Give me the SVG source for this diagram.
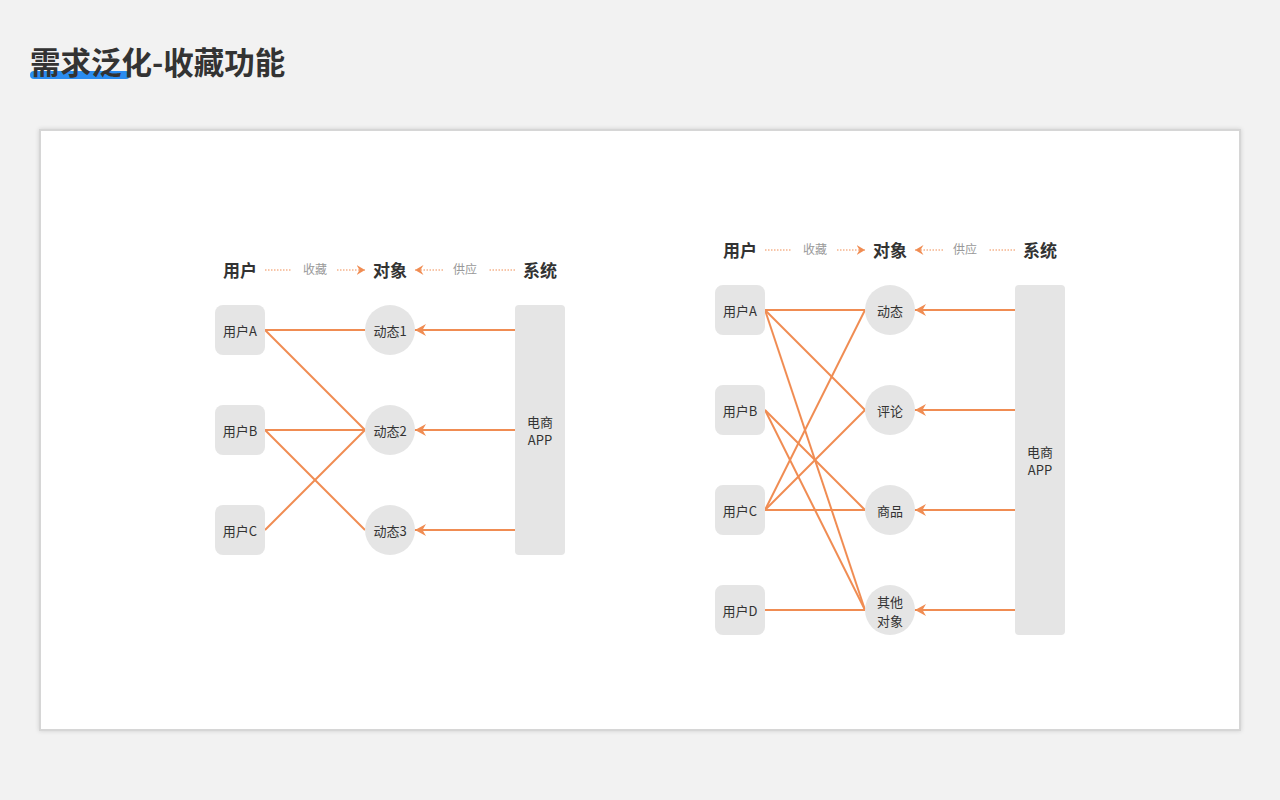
<svg xmlns="http://www.w3.org/2000/svg" width="1280" height="800" viewBox="0 0 1280 800">
<defs>
<marker id="ah" markerWidth="12" markerHeight="14" viewBox="0 0 12 14" refX="11" refY="7" orient="auto" markerUnits="userSpaceOnUse">
<path d="M0,1 L11,7 L0,13 L3.5,7 Z" fill="#f08c52"/>
</marker>
<marker id="hs" markerWidth="9" markerHeight="11" viewBox="0 0 9 11" refX="8.5" refY="5.5" orient="auto" markerUnits="userSpaceOnUse">
<path d="M0,0.5 L8.5,5.5 L0,10.5 L3,5.5 Z" fill="#f08c52"/>
</marker>
<filter id="sh" x="-5%" y="-5%" width="110%" height="110%">
<feDropShadow dx="0" dy="0" stdDeviation="2" flood-color="#000" flood-opacity="0.15"/>
</filter>
</defs>
<style>
.f{font-family:"Noto Sans CJK SC","Noto Sans",sans-serif}
.hd{font-size:17px;font-weight:bold;fill:#333;text-anchor:middle}
.lb{font-size:12px;fill:#999;text-anchor:middle}
.nt{font-size:13px;fill:#333;text-anchor:middle}
.box{fill:#e5e5e5}
.ln{stroke:#f08c52;stroke-width:2;fill:none}
.dt{stroke:#f08c52;stroke-width:1;stroke-dasharray:1.5 1.5;fill:none}
</style>
<rect width="1280" height="800" fill="#f2f2f2"/>
<g id="title">
<rect x="30" y="71" width="100" height="8" rx="4" fill="#2a8cf0"/>
<text class="f" x="30" y="74" font-size="30.5" font-weight="bold" fill="#333">需求泛化-收藏功能</text>
</g>
<rect id="card" x="40" y="130" width="1200" height="600" fill="#fff" stroke="#d6d6d6" stroke-width="2" filter="url(#sh)"/>

<g id="left-header" class="f">
<text class="hd" x="240" y="277">用户</text>
<text class="lb" x="315" y="274">收藏</text>
<text class="hd" x="390" y="277">对象</text>
<text class="lb" x="465" y="274">供应</text>
<text class="hd" x="540" y="277">系统</text>
<line class="dt" x1="265" y1="270" x2="292" y2="270"/>
<line class="dt" x1="337" y1="270" x2="365" y2="270" marker-end="url(#hs)"/>
<line class="dt" x1="515" y1="270" x2="488" y2="270"/>
<line class="dt" x1="443" y1="270" x2="415" y2="270" marker-end="url(#hs)"/>
</g>

<g id="left-connectors">
<line class="ln" x1="265" y1="330" x2="365" y2="330"/>
<line class="ln" x1="265" y1="330" x2="365" y2="430"/>
<line class="ln" x1="265" y1="430" x2="365" y2="430"/>
<line class="ln" x1="265" y1="430" x2="365" y2="530"/>
<line class="ln" x1="265" y1="530" x2="365" y2="430"/>
<line class="ln" x1="515" y1="330" x2="415" y2="330" marker-end="url(#ah)"/>
<line class="ln" x1="515" y1="430" x2="415" y2="430" marker-end="url(#ah)"/>
<line class="ln" x1="515" y1="530" x2="415" y2="530" marker-end="url(#ah)"/>
</g>

<g id="l-userA" class="f"><rect class="box" x="215" y="305" width="50" height="50" rx="8"/><text class="nt" x="240" y="336">用户A</text></g>
<g id="l-userB" class="f"><rect class="box" x="215" y="405" width="50" height="50" rx="8"/><text class="nt" x="240" y="436">用户B</text></g>
<g id="l-userC" class="f"><rect class="box" x="215" y="505" width="50" height="50" rx="8"/><text class="nt" x="240" y="536">用户C</text></g>
<g id="l-obj1" class="f"><circle class="box" cx="390" cy="330" r="25"/><text class="nt" x="390" y="336">动态1</text></g>
<g id="l-obj2" class="f"><circle class="box" cx="390" cy="430" r="25"/><text class="nt" x="390" y="436">动态2</text></g>
<g id="l-obj3" class="f"><circle class="box" cx="390" cy="530" r="25"/><text class="nt" x="390" y="536">动态3</text></g>
<g id="l-system" class="f"><rect class="box" x="515" y="305" width="50" height="250" rx="4"/><text class="nt" x="540" y="427">电商</text><text class="nt" x="540" y="445">APP</text></g>

<g id="right-header" class="f">
<text class="hd" x="740" y="257">用户</text>
<text class="lb" x="815" y="254">收藏</text>
<text class="hd" x="890" y="257">对象</text>
<text class="lb" x="965" y="254">供应</text>
<text class="hd" x="1040" y="257">系统</text>
<line class="dt" x1="765" y1="250" x2="792" y2="250"/>
<line class="dt" x1="837" y1="250" x2="865" y2="250" marker-end="url(#hs)"/>
<line class="dt" x1="1015" y1="250" x2="988" y2="250"/>
<line class="dt" x1="943" y1="250" x2="915" y2="250" marker-end="url(#hs)"/>
</g>

<g id="right-connectors">
<line class="ln" x1="765" y1="310" x2="865" y2="310"/>
<line class="ln" x1="765" y1="310" x2="865" y2="410"/>
<line class="ln" x1="765" y1="310" x2="865" y2="610"/>
<line class="ln" x1="765" y1="410" x2="865" y2="510"/>
<line class="ln" x1="765" y1="410" x2="865" y2="610"/>
<line class="ln" x1="765" y1="510" x2="865" y2="310"/>
<line class="ln" x1="765" y1="510" x2="865" y2="410"/>
<line class="ln" x1="765" y1="510" x2="865" y2="510"/>
<line class="ln" x1="765" y1="610" x2="865" y2="610"/>
<line class="ln" x1="1015" y1="310" x2="915" y2="310" marker-end="url(#ah)"/>
<line class="ln" x1="1015" y1="410" x2="915" y2="410" marker-end="url(#ah)"/>
<line class="ln" x1="1015" y1="510" x2="915" y2="510" marker-end="url(#ah)"/>
<line class="ln" x1="1015" y1="610" x2="915" y2="610" marker-end="url(#ah)"/>
</g>

<g id="r-userA" class="f"><rect class="box" x="715" y="285" width="50" height="50" rx="8"/><text class="nt" x="740" y="316">用户A</text></g>
<g id="r-userB" class="f"><rect class="box" x="715" y="385" width="50" height="50" rx="8"/><text class="nt" x="740" y="416">用户B</text></g>
<g id="r-userC" class="f"><rect class="box" x="715" y="485" width="50" height="50" rx="8"/><text class="nt" x="740" y="516">用户C</text></g>
<g id="r-userD" class="f"><rect class="box" x="715" y="585" width="50" height="50" rx="8"/><text class="nt" x="740" y="616">用户D</text></g>
<g id="r-obj1" class="f"><circle class="box" cx="890" cy="310" r="25"/><text class="nt" x="890" y="316">动态</text></g>
<g id="r-obj2" class="f"><circle class="box" cx="890" cy="410" r="25"/><text class="nt" x="890" y="416">评论</text></g>
<g id="r-obj3" class="f"><circle class="box" cx="890" cy="510" r="25"/><text class="nt" x="890" y="516">商品</text></g>
<g id="r-obj4" class="f"><circle class="box" cx="890" cy="610" r="25"/><text class="nt" x="890" y="607">其他</text><text class="nt" x="890" y="626">对象</text></g>
<g id="r-system" class="f"><rect class="box" x="1015" y="285" width="50" height="350" rx="4"/><text class="nt" x="1040" y="457">电商</text><text class="nt" x="1040" y="475">APP</text></g>
</svg>
